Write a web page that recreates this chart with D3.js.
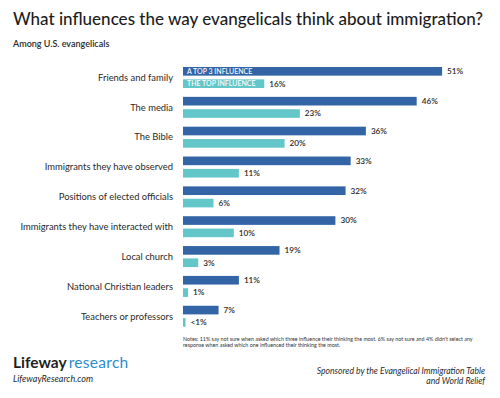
<!DOCTYPE html>
<html>
<head>
<meta charset="utf-8">
<script src="https://cdn.jsdelivr.net/npm/d3@7"></script>
<style>
  body { margin: 0; background: #fff; }
  svg { display: block; font-family: Lato, "Open Sans", sans-serif; }
</style>
</head>
<body>
<div id="chart"></div>
<script>
// data
var categories = [
  "Friends and family",
  "The media",
  "The Bible",
  "Immigrants they have observed",
  "Positions of elected officials",
  "Immigrants they have interacted with",
  "Local church",
  "National Christian leaders",
  "Teachers or professors"
];
var series = ["A TOP 3 INFLUENCE", "THE TOP INFLUENCE"];
var top3Values = [51, 46, 36, 33, 32, 30, 19, 11, 7];
var topValues = [16, 23, 20, 11, 6, 10, 3, 1, 0.5];
var topLabels = ["16%", "23%", "20%", "11%", "6%", "10%", "3%", "1%", "<1%"];
var colors = ["#3264a6", "#63c7c9"];

var width = 500, height = 398;

var svg = d3.select("#chart").append("svg")
  .attr("width", width)
  .attr("height", height);

// title + subtitle
svg.append("text")
  .attr("x", 13).attr("y", 25)
  .attr("font-size", 17.2)
  .attr("font-weight", 500)
  .attr("fill", "#1d1d1d")
  .attr("textLength", 470)
  .attr("lengthAdjust", "spacingAndGlyphs")
  .text("What influences the way evangelicals think about immigration?");

svg.append("text")
  .attr("x", 13).attr("y", 47)
  .attr("font-size", 9)
  .attr("font-weight", 600)
  .attr("fill", "#2a2a2a")
  .text("Among U.S. evangelicals");

// scales
var xScale = d3.scaleLinear().domain([0, 100]).range([183, 691]);
var yScale = d3.scaleBand().domain(categories).range([62, 330.6]);
var ySub = d3.scaleBand().domain(series).range([5, 26]).paddingInner(0.3);

var rows = categories.map(function (c, i) {
  return {
    category: c,
    bars: [
      { key: series[0], value: top3Values[i], label: top3Values[i] + "%" },
      { key: series[1], value: topValues[i], label: topLabels[i] }
    ]
  };
});

var groups = svg.append("g").selectAll("g")
  .data(rows)
  .join("g")
  .attr("transform", function (d) { return "translate(0," + yScale(d.category) + ")"; });

// category labels
groups.append("text")
  .attr("x", 173)
  .attr("y", 15.5)
  .attr("dy", "0.35em")
  .attr("text-anchor", "end")
  .attr("font-size", 9.4)
  .attr("fill", "#2a2a2a")
  .text(function (d) { return d.category; });

groups.selectAll("rect")
  .data(function (d) { return d.bars; })
  .join("rect")
  .attr("x", xScale(0))
  .attr("y", function (d) { return ySub(d.key); })
  .attr("width", function (d) { return xScale(d.value) - xScale(0); })
  .attr("height", ySub.bandwidth())
  .attr("fill", function (d, i) { return colors[i]; });

groups.selectAll("text.val")
  .data(function (d) { return d.bars; })
  .join("text")
  .attr("class", "val")
  .attr("x", function (d) { return xScale(d.value) + 5; })
  .attr("y", function (d) { return ySub(d.key) + ySub.bandwidth() / 2; })
  .attr("dy", "0.35em")
  .attr("font-size", 8.2)
  .attr("font-weight", 600)
  .attr("fill", "#2a2a2a")
  .text(function (d) { return d.label; });

// legend written inside the first pair of bars
svg.append("g").selectAll("text")
  .data(series)
  .join("text")
  .attr("x", xScale(0) + 4)
  .attr("y", function (d) { return yScale(categories[0]) + ySub(d) + ySub.bandwidth() / 2; })
  .attr("dy", "0.36em")
  .attr("font-size", 7)
  .attr("font-weight", 500)
  .attr("fill", "#fff")
  .text(function (d) { return d; });

// notes
var notes = [
  "Notes:  11% say not sure when asked which three influence their thinking the most. 6% say not sure and 4% didn't select any",
  "response when asked which one influenced their thinking the most."
];
svg.append("g").selectAll("text")
  .data(notes)
  .join("text")
  .attr("x", 183)
  .attr("y", function (d, i) { return 341 + i * 5.8; })
  .attr("font-size", 5.35)
  .attr("fill", "#333")
  .text(function (d) { return d; });

// footer
var logo = svg.append("text")
  .attr("x", 13).attr("y", 368)
  .attr("font-size", 15.5);
logo.append("tspan").attr("font-weight", 700).attr("fill", "#1f1f1f").text("Lifeway");
logo.append("tspan").attr("dx", 2).attr("font-weight", 400).attr("fill", "#2b8ccf")
  .attr("letter-spacing", 0.3).text("research");

svg.append("text")
  .attr("x", 13).attr("y", 382)
  .attr("font-size", 9)
  .attr("font-style", "italic")
  .attr("fill", "#2a2a2a")
  .text("LifewayResearch.com");

svg.append("g").selectAll("text")
  .data(["Sponsored by the Evangelical Immigration Table", "and World Relief"])
  .join("text")
  .attr("x", 485)
  .attr("y", function (d, i) { return 374 + i * 9.8; })
  .attr("text-anchor", "end")
  .attr("font-size", 8.6)
  .attr("font-style", "italic")
  .attr("fill", "#2a2a2a")
  .text(function (d) { return d; });
</script>
</body>
</html>
